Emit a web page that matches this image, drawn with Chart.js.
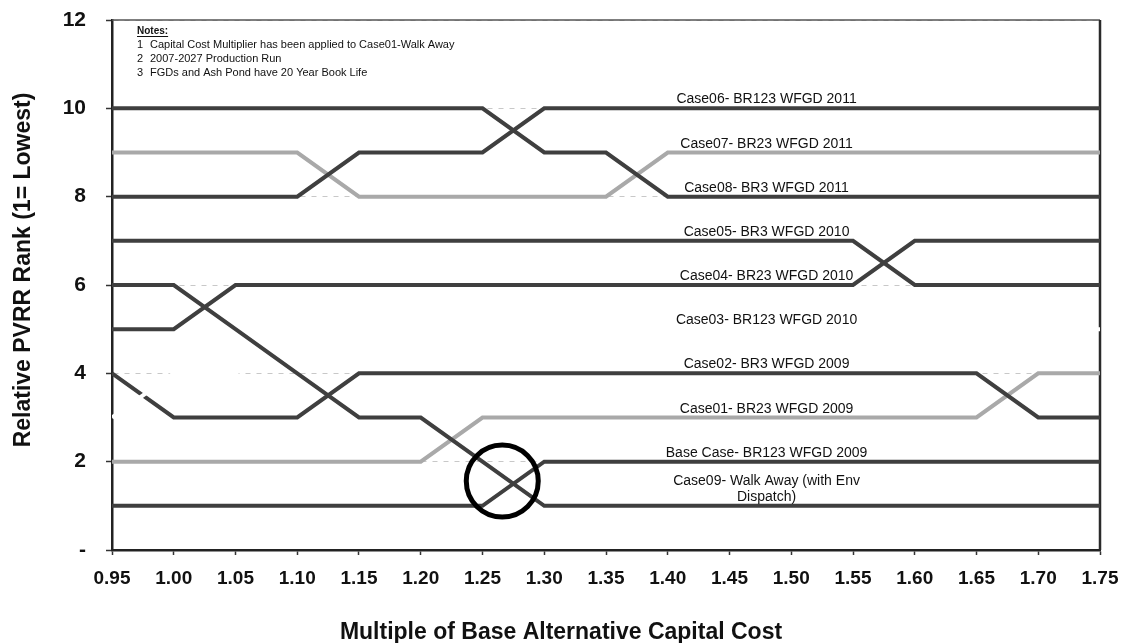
<!DOCTYPE html>
<html>
<head>
<meta charset="utf-8">
<script src="https://cdn.jsdelivr.net/npm/chart.js@4.4.0/dist/chart.umd.min.js"></script>
<style>
  html, body { margin: 0; padding: 0; background: #ffffff; }
  #wrap { width: 1122px; height: 643px; }
</style>
</head>
<body>
<div id="wrap"><canvas id="chart" width="1122" height="643"></canvas></div>
<script>
// Capital cost multiples (x) and tick labels
const multiples = [0.95, 1.00, 1.05, 1.10, 1.15, 1.20, 1.25, 1.30, 1.35, 1.40, 1.45, 1.50, 1.55, 1.60, 1.65, 1.70, 1.75];
const xTickLabels = ['0.95', '1.00', '1.05', '1.10', '1.15', '1.20', '1.25', '1.30', '1.35', '1.40', '1.45', '1.50', '1.55', '1.60', '1.65', '1.70', '1.75'];
const yTickValues = [0, 2, 4, 6, 8, 10, 12];
const yTickLabels = ['-', '2', '4', '6', '8', '10', '12'];

// Relative PVRR rank of each case at each multiple
const case06 = [8, 8, 8, 8, 9, 9, 9, 10, 10, 10, 10, 10, 10, 10, 10, 10, 10];
const case07 = [9, 9, 9, 9, 8, 8, 8, 8, 8, 9, 9, 9, 9, 9, 9, 9, 9];
const case08 = [10, 10, 10, 10, 10, 10, 10, 9, 9, 8, 8, 8, 8, 8, 8, 8, 8];
const case05 = [7, 7, 7, 7, 7, 7, 7, 7, 7, 7, 7, 7, 7, 6, 6, 6, 6];
const case04 = [5, 5, 6, 6, 6, 6, 6, 6, 6, 6, 6, 6, 6, 7, 7, 7, 7];
const case03 = [3, 4, 4, 5, 5, 5, 5, 5, 5, 5, 5, 5, 5, 5, 5, 5, 5];
const case02 = [4, 3, 3, 3, 4, 4, 4, 4, 4, 4, 4, 4, 4, 4, 4, 3, 3];
const case01 = [2, 2, 2, 2, 2, 2, 3, 3, 3, 3, 3, 3, 3, 3, 3, 4, 4];
const baseCase = [1, 1, 1, 1, 1, 1, 1, 2, 2, 2, 2, 2, 2, 2, 2, 2, 2];
const case09 = [6, 6, 5, 4, 3, 3, 2, 1, 1, 1, 1, 1, 1, 1, 1, 1, 1];

// Crossover marker
const markerX = [1.266];
const markerY = [1.56];

const notes = [
  'Capital Cost Multiplier has been applied to Case01-Walk Away',
  '2007-2027 Production Run',
  'FGDs and Ash Pond have 20 Year Book Life'
];

const DARK = '#3f3f3f';
const LIGHT = '#a9a9a9';
const FONT = "'Liberation Sans', Arial, Helvetica, sans-serif";
const LABEL_AT = 1.48;     // x value where the case names sit
const LABEL_FROM = 1.50;   // rank used for the case name height

const series = [
  { name: 'Case09- Walk Away (with Env Dispatch)', values: case09, color: DARK, order: 1 },
  { name: 'Case03- BR123 WFGD 2010', values: case03, color: '#ffffff', order: 2 },
  { name: 'Case02- BR3 WFGD 2009', values: case02, color: DARK, order: 3 },
  { name: 'Base Case- BR123 WFGD 2009', values: baseCase, color: DARK, order: 4 },
  { name: 'Case01- BR23 WFGD 2009', values: case01, color: LIGHT, order: 5 },
  { name: 'Case04- BR23 WFGD 2010', values: case04, color: DARK, order: 6 },
  { name: 'Case05- BR3 WFGD 2010', values: case05, color: DARK, order: 7 },
  { name: 'Case08- BR3 WFGD 2011', values: case08, color: DARK, order: 8 },
  { name: 'Case06- BR123 WFGD 2011', values: case06, color: DARK, order: 9 },
  { name: 'Case07- BR23 WFGD 2011', values: case07, color: LIGHT, order: 10 }
];

const datasets = series.map(s => ({
  label: s.name,
  data: multiples.map((m, i) => ({ x: m, y: s.values[i] })),
  borderColor: s.color,
  backgroundColor: s.color,
  borderWidth: 4,
  pointRadius: 0,
  pointHoverRadius: 0,
  tension: 0,
  showLine: true,
  order: s.order,
  caseLine: true
}));

datasets.push({
  label: 'marker',
  data: markerX.map((x, i) => ({ x: x, y: markerY[i] })),
  showLine: false,
  pointRadius: 36,
  pointHoverRadius: 36,
  pointBorderWidth: 5,
  pointBorderColor: '#000000',
  pointBackgroundColor: 'rgba(0,0,0,0)',
  order: 0
});

// Frame on the top and right of the plot area
const framePlugin = {
  id: 'frame',
  beforeDatasetsDraw(chart) {
    const { ctx, chartArea: a } = chart;
    ctx.save();
    ctx.strokeStyle = '#555555';
    ctx.lineWidth = 1.5;
    ctx.beginPath();
    ctx.moveTo(a.left, a.top);
    ctx.lineTo(a.right, a.top);
    ctx.stroke();
    ctx.strokeStyle = '#2a2a2a';
    ctx.lineWidth = 2.5;
    ctx.beginPath();
    ctx.moveTo(a.right, a.top);
    ctx.lineTo(a.right, a.bottom);
    ctx.stroke();
    ctx.restore();
  }
};

// Case names, notes and axis titles
const textPlugin = {
  id: 'texts',
  afterDatasetsDraw(chart) {
    const { ctx, chartArea: a } = chart;
    const xs = chart.scales.x, ys = chart.scales.y;
    const idx = multiples.indexOf(LABEL_FROM);
    ctx.save();
    ctx.fillStyle = '#111111';
    ctx.font = '14px ' + FONT;
    ctx.textAlign = 'center';
    ctx.textBaseline = 'alphabetic';
    chart.data.datasets.forEach(ds => {
      if (!ds.caseLine) return;
      const rank = ds.data[idx].y;
      const cx = xs.getPixelForValue(LABEL_AT);
      const baseY = ys.getPixelForValue(rank) - 5;
      // word-wrap long names
      const words = ds.label.split(' ');
      const lines = [];
      let cur = '';
      words.forEach(w => {
        const t = cur ? cur + ' ' + w : w;
        if (ctx.measureText(t).width > 215 && cur) { lines.push(cur); cur = w; }
        else cur = t;
      });
      lines.push(cur);
      lines.forEach((ln, k) => {
        ctx.fillText(ln, cx, baseY - (lines.length - 1 - k) * 16);
      });
    });

    // notes block
    ctx.textAlign = 'left';
    ctx.font = 'bold 10px ' + FONT;
    const nx = a.left + 25;
    ctx.fillText('Notes:', nx, a.top + 14);
    const w = ctx.measureText('Notes:').width;
    ctx.fillRect(nx, a.top + 16, w, 1);
    ctx.font = '11px ' + FONT;
    notes.forEach((n, i) => {
      const y = a.top + 28 + i * 14;
      ctx.fillText(String(i + 1), nx, y);
      ctx.fillText(n, nx + 13, y);
    });

    // axis titles
    ctx.fillStyle = '#111111';
    ctx.font = 'bold 23px ' + FONT;
    ctx.textAlign = 'center';
    ctx.fillText('Multiple of Base Alternative Capital Cost', (a.left + a.right) / 2 - 45, 639);
    ctx.translate(24, (a.top + a.bottom) / 2 - 15);
    ctx.rotate(-Math.PI / 2);
    ctx.textBaseline = 'middle';
    ctx.fillText('Relative PVRR Rank (1= Lowest)', 0, 0);
    ctx.restore();
  }
};

new Chart(document.getElementById('chart'), {
  type: 'scatter',
  data: { datasets: datasets },
  options: {
    responsive: false,
    animation: false,
    events: [],
    layout: { autoPadding: false, padding: { top: 20, right: 22, left: 0, bottom: 0 } },
    plugins: { legend: { display: false }, tooltip: { enabled: false } },
    scales: {
      x: {
        type: 'linear',
        min: 0.95,
        max: 1.75,
        afterBuildTicks(scale) { scale.ticks = multiples.map(v => ({ value: v })); },
        afterFit(scale) {
          scale.height = 93;
          scale.paddingLeft = 0; scale.paddingRight = 0;
          scale.paddingTop = 0; scale.paddingBottom = 0;
        },
        ticks: {
          autoSkip: false,
          maxRotation: 0,
          padding: 12,
          color: '#111111',
          font: { family: FONT, size: 19, weight: 'bold' },
          callback(value, i) { return xTickLabels[i]; }
        },
        grid: { drawOnChartArea: false, tickLength: 5, tickColor: '#333333', tickWidth: 1.5 },
        border: { color: '#222222', width: 2.5 }
      },
      y: {
        type: 'linear',
        min: 0,
        max: 12,
        afterBuildTicks(scale) { scale.ticks = yTickValues.map(v => ({ value: v })); },
        afterFit(scale) {
          scale.width = 112;
          scale.paddingLeft = 0; scale.paddingRight = 0;
          scale.paddingTop = 0; scale.paddingBottom = 0;
        },
        ticks: {
          padding: 20,
          color: '#111111',
          font: { family: FONT, size: 21, weight: 'bold' },
          callback(value, i) { return yTickLabels[i]; }
        },
        grid: { color: '#c8c8c8', lineWidth: 1, tickLength: 6, tickColor: '#333333', tickWidth: 1.5 },
        border: { color: '#222222', width: 2.5, dash: [5, 6] }
      }
    }
  },
  plugins: [framePlugin, textPlugin]
});
</script>
</body>
</html>
